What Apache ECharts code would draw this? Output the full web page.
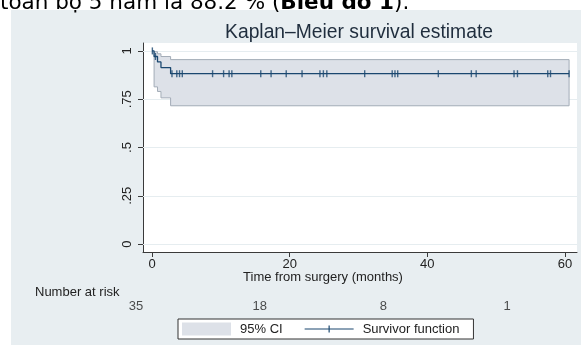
<!DOCTYPE html>
<html>
<head>
<meta charset="utf-8">
<script src="https://cdn.jsdelivr.net/npm/echarts@6/dist/echarts.min.js"></script>
<style>html,body{margin:0;padding:0;background:#fff;}#c{width:581px;height:345px;}</style>
</head>
<body>
<div id="c"></div>
<script>
// ---- data ----
const chartTitle = 'Kaplan–Meier survival estimate';
const xTitle = 'Time from surgery (months)';
const xTicks = [0, 20, 40, 60];
const yTicks = [0, 0.25, 0.5, 0.75, 1];
const yTickLabels = ['0', '.25', '.5', '.75', '1'];
const survTimes = [0, 0.3, 0.8, 1.3, 2.7, 60.6];
const survValues = [1, 0.971, 0.943, 0.914, 0.882, 0.882];
const ciTimes = [0.3, 0.8, 1.3, 2.7, 60.6];
const ciLower = [0.814, 0.79, 0.757, 0.716, 0.716];
const ciUpper = [0.996, 0.985, 0.971, 0.955, 0.955];
const censorTimes = [0.05, 0.5, 2.9, 3.6, 4.0, 4.4, 8.8, 10.4, 11.2, 11.6, 15.8, 17.3, 19.5, 21.8, 24.4, 24.9, 25.4, 30.9, 34.9, 35.3, 35.7, 41.6, 46.4, 47.1, 52.6, 53.1, 57.5, 57.9, 60.6];
const censorSurv = [1, 0.971, 0.882, 0.882, 0.882, 0.882, 0.882, 0.882, 0.882, 0.882, 0.882, 0.882, 0.882, 0.882, 0.882, 0.882, 0.882, 0.882, 0.882, 0.882, 0.882, 0.882, 0.882, 0.882, 0.882, 0.882, 0.882, 0.882, 0.882];
const riskTimes = [0, 20, 40, 60];
const riskCounts = [35, 18, 8, 1];
const legendNames = ['95% CI', 'Survivor function'];

// ---- styles ----
const FONT = '"Liberation Sans", Arial, sans-serif';
const NAVY = '#1a476f';
const BAND = '#dde1e8';
const BANDLINE = '#a3acb7';
const AXIS = '#3a3a3a';

const chart = echarts.init(document.getElementById('c'), null, {renderer: 'canvas'});

function bandItem(params, api) {
  if (params.dataIndex !== 0) return null;
  const up = [], lo = [];
  for (let i = 0; i < ciTimes.length; i++) {
    up.push(api.coord([ciTimes[i], ciUpper[i]]));
    lo.push(api.coord([ciTimes[i], ciLower[i]]));
    if (i + 1 < ciTimes.length) {
      up.push(api.coord([ciTimes[i + 1], ciUpper[i]]));
      lo.push(api.coord([ciTimes[i + 1], ciLower[i]]));
    }
  }
  const pts = up.concat(lo.reverse());
  return {type: 'polygon', shape: {points: pts}, style: {fill: BAND, stroke: BANDLINE, lineWidth: 1}};
}

const option = {
  backgroundColor: '#ffffff',
  animation: false,
  textStyle: {fontFamily: FONT},
  graphic: [
    {type: 'rect', z: -10, silent: true, shape: {x: 11, y: 10, width: 570, height: 335}, style: {fill: '#e8eef1'}},
    {type: 'text', z: 10, silent: true, style: {
      x: 0, y: 14, text: 'toàn bộ 5 năm là 88.2 % ({b|Biểu đồ 1}).',
      font: '21.5px "DejaVu Sans", sans-serif', fill: '#000', verticalAlign: 'bottom',
      rich: {b: {fontWeight: 'bold', fontSize: 21.5, fontFamily: '"DejaVu Sans", sans-serif'}}
    }},
    {type: 'text', silent: true, style: {x: 359, y: 33, text: chartTitle, font: '19.3px "Liberation Sans", Arial, sans-serif', fill: '#1f2d3d', align: 'center', verticalAlign: 'middle'}},
    {type: 'text', silent: true, style: {x: 323, y: 277, text: xTitle, font: '13px "Liberation Sans", Arial, sans-serif', fill: '#222', align: 'center', verticalAlign: 'middle'}},
    {type: 'text', silent: true, style: {x: 35, y: 292, text: 'Number at risk', font: '13px "Liberation Sans", Arial, sans-serif', fill: '#222', align: 'left', verticalAlign: 'middle'}}
  ],
  legend: {
    left: 178, top: 319,
    orient: 'horizontal',
    data: [
      {name: legendNames[0], icon: 'rect'},
      {name: legendNames[1], icon: 'path://M0,4.4h50v1.2h-50z M24.4,1.5h1.2v7h-1.2z'}
    ],
    itemWidth: 49, itemHeight: 13, itemGap: 22,
    backgroundColor: '#ffffff', borderColor: '#333', borderWidth: 1, borderRadius: 0,
    padding: [3.5, 14, 3.5, 4],
    textStyle: {fontSize: 13, color: '#222', fontFamily: FONT, padding: [0, 0, 0, 4]}
  },
  grid: [
    {left: 143, right: 4, top: 43, bottom: 93, show: true, backgroundColor: '#ffffff', borderWidth: 0},
    {left: 136, width: 371, top: 300, height: 12, show: false}
  ],
  xAxis: [
    {type: 'value', gridIndex: 0, min: -1.31, max: 61.75,
      axisLine: {show: true, onZero: false, lineStyle: {color: AXIS, width: 1}},
      axisTick: {show: true, customValues: xTicks, length: 5, lineStyle: {color: AXIS}},
      axisLabel: {customValues: xTicks, fontSize: 13, color: '#222', margin: 6, fontFamily: FONT},
      splitLine: {show: false}},
    {type: 'value', gridIndex: 1, min: 0, max: 60, show: false}
  ],
  yAxis: [
    {type: 'value', gridIndex: 0, min: -0.041, max: 1.041,
      axisLine: {show: true, onZero: false, lineStyle: {color: AXIS, width: 1}},
      axisTick: {show: true, customValues: yTicks, length: 5, lineStyle: {color: AXIS}},
      axisLabel: {customValues: yTicks, rotate: 90, fontSize: 13, color: '#222', margin: 9, fontFamily: FONT,
        formatter: function (v) { const i = yTicks.indexOf(v); return i >= 0 ? yTickLabels[i] : ''; }},
      splitLine: {show: false}},
    {type: 'value', gridIndex: 1, min: 0, max: 1, show: false}
  ],
  series: [
    {type: 'line', name: 'grid', xAxisIndex: 0, yAxisIndex: 0, data: [], silent: true, z: 1,
      markLine: {silent: true, symbol: 'none', z: 1, label: {show: false},
        lineStyle: {color: '#e6edf0', width: 1, type: 'solid'},
        data: yTicks.map(v => ({yAxis: v}))}},
    {type: 'custom', name: legendNames[0], xAxisIndex: 0, yAxisIndex: 0, z: 2, clip: true,
      itemStyle: {color: BAND},
      data: ciTimes.map((t, i) => [t, ciLower[i], ciUpper[i]]),
      encode: {x: 0, y: [1, 2]},
      renderItem: bandItem},
    {type: 'line', name: legendNames[1], xAxisIndex: 0, yAxisIndex: 0, step: 'end', symbol: 'none', z: 3,
      itemStyle: {color: NAVY}, lineStyle: {color: NAVY, width: 1.3},
      data: survTimes.map((t, i) => [t, survValues[i]])},
    {type: 'scatter', name: 'censored', xAxisIndex: 0, yAxisIndex: 0, z: 4, symbol: 'rect', symbolSize: [1.4, 7],
      itemStyle: {color: NAVY}, data: censorTimes.map((t, i) => [t, censorSurv[i]])},
    {type: 'scatter', name: 'risk', xAxisIndex: 1, yAxisIndex: 1, symbolSize: 0, silent: true,
      label: {show: true, position: 'inside', fontSize: 13, color: '#222', fontFamily: FONT,
        formatter: function (p) { return String(riskCounts[p.dataIndex]); }},
      data: riskTimes.map(t => [t, 0.5])}
  ]
};
chart.setOption(option);
</script>
</body>
</html>
